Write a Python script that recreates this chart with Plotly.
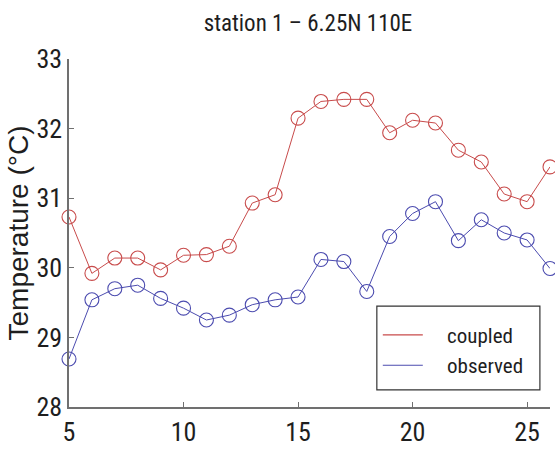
import plotly.graph_objects as go

days = list(range(5, 27))
coupled = [30.73, 29.92, 30.14, 30.14, 29.97, 30.18, 30.19, 30.31, 30.93, 31.05, 32.15,
           32.39, 32.42, 32.42, 31.94, 32.12, 32.08, 31.69, 31.52, 31.06, 30.95, 31.45]
observed = [28.69, 29.54, 29.70, 29.75, 29.56, 29.42, 29.25, 29.32, 29.47, 29.54, 29.58,
            30.12, 30.09, 29.66, 30.45, 30.78, 30.95, 30.39, 30.69, 30.50, 30.40, 29.99]
series_names = ["coupled", "observed"]
x_ticks = [5, 10, 15, 20, 25]
y_ticks = [28, 29, 30, 31, 32, 33]

COND = "Roboto Condensed, Liberation Sans, Arial, sans-serif"
REG = "Liberation Sans, Arial, sans-serif"
TXT = "#1e1e1e"
RED = "rgb(200,75,75)"
BLUE = "rgb(75,75,175)"
AXIS = "#707070"
PAD = "\u00a0" * 4

fig = go.Figure()
for name, vals, col in [(series_names[0], coupled, RED), (series_names[1], observed, BLUE)]:
    fig.add_trace(go.Scatter(
        x=days, y=vals, name=name, mode="lines+markers", showlegend=False,
        cliponaxis=False,
        line=dict(color=col, width=1),
        marker=dict(symbol="circle-open", size=14, color=col, line=dict(width=1.1, color=col)),
    ))
# legend entries: line samples only, as in the reference
for name, col in [(series_names[0], RED), (series_names[1], BLUE)]:
    fig.add_trace(go.Scatter(x=[None], y=[None], name=PAD + name, mode="lines",
                             line=dict(color=col, width=1.2)))

fig.update_layout(
    width=555, height=453,
    margin=dict(l=69, r=5, t=59, b=46),
    paper_bgcolor="white", plot_bgcolor="white",
    font=dict(family=COND, color=TXT, size=26),
    title=dict(text="station 1 – 6.25N 110E", x=308 / 555, xanchor="center",
               y=0.950, yanchor="middle", font=dict(size=23, family=COND, color=TXT)),
    showlegend=True,
    legend=dict(
        x=0.642, y=0.163, xanchor="left", yanchor="middle",
        bgcolor="rgba(0,0,0,0)", borderwidth=0,
        font=dict(size=21, family=COND, color=TXT),
        itemwidth=40, tracegroupgap=0,
    ),
    shapes=[dict(type="rect", xref="paper", yref="paper", x0=0.640, x1=0.979, y0=0.049, y1=0.290,
                 line=dict(color="#333", width=1.2), fillcolor="white", layer="below")],
    xaxis=dict(
        range=[5, 26], tickvals=x_ticks, showgrid=False, zeroline=False, automargin=False,
        showline=True, linecolor=AXIS, linewidth=1.5,
        ticks="inside", ticklen=5, tickcolor=AXIS, ticklabelstandoff=1,
        tickfont=dict(size=26, family=COND, color=TXT),
    ),
    yaxis=dict(
        range=[28, 33], tickvals=y_ticks, showgrid=False, zeroline=False, automargin=False,
        showline=True, linecolor=AXIS, linewidth=1.5,
        ticks="inside", ticklen=5, tickcolor=AXIS,
        tickfont=dict(size=26, family=COND, color=TXT),
        title=dict(text="Temperature (°C)", font=dict(size=28, family=REG, color=TXT), standoff=0),
    ),
)

fig.write_html("out.html", config={"displayModeBar": False},
               post_script="document.body.style.margin='0';")
